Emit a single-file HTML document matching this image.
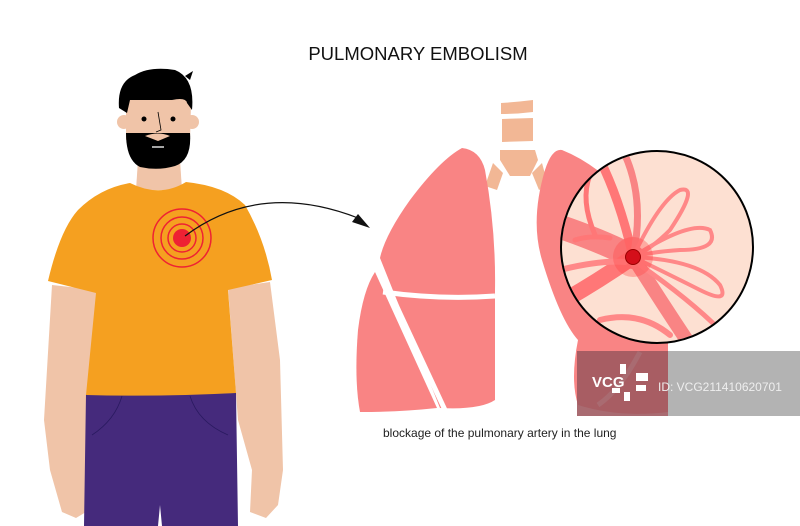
<!DOCTYPE html>
<html><head><meta charset="utf-8"><style>
html,body{margin:0;padding:0;background:#fff;}
svg{display:block;}
text{font-family:"Liberation Sans",sans-serif;}
</style></head><body>
<svg width="800" height="526" viewBox="0 0 800 526" xmlns="http://www.w3.org/2000/svg">
<rect width="800" height="526" fill="#fff"/>
<text x="418" y="60" font-size="18.5" text-anchor="middle" fill="#111">PULMONARY EMBOLISM</text>
<text x="383" y="437" font-size="12" fill="#222">blockage of the pulmonary  artery in the lung</text>

<!-- arms -->
<path d="M52 285 L98 290 L90 420 L86 470 L92 498 L86 512 L76 518 L62 512 L50 470 L44 420 Z" fill="#f0c4a8"/>
<path d="M228 288 L270 282 L280 360 L283 470 L278 505 L266 518 L250 512 L252 470 L238 420 Z" fill="#f0c4a8"/>
<!-- pants -->
<path d="M86 394 L236 393 L238 526 L162 526 L160 505 L158 526 L84 526 Z" fill="#452a7c"/>
<path d="M122 396 Q115 420 92 435 M190 396 Q198 422 228 435" stroke="#2a1a60" stroke-width="0.8" fill="none"/>
<!-- neck -->
<path d="M138 160 L180 160 L182 190 L136 190 Z" fill="#f0c4a8"/>
<!-- shirt -->
<path d="M130 183 Q160 198 186 182 Q225 186 245 205 Q265 240 272 280 L228 290 L236 393 Q160 397 86 395 L96 293 L48 281 Q60 230 78 210 Q100 188 130 183 Z" fill="#f5a020"/>
<!-- target -->
<g fill="none" stroke="#ee2233" stroke-width="1.5">
<circle cx="182" cy="238" r="14"/><circle cx="182" cy="238" r="21"/><circle cx="182" cy="238" r="29"/>
</g>
<circle cx="182" cy="238" r="9" fill="#ee2233"/>
<!-- arrow -->
<path d="M185 236 Q260 180 358 218" stroke="#111" stroke-width="1.2" fill="none"/>
<path d="M370 228 L352 222 L358 214 Z" fill="#111"/>
<!-- head -->
<circle cx="124" cy="122" r="7" fill="#f0c4a8"/>
<circle cx="192" cy="122" r="7" fill="#f0c4a8"/>
<path d="M126 100 Q127 88 158 88 Q190 88 191 105 L190 140 L126 140 Z" fill="#f0c4a8"/>
<path d="M119 108 Q117 82 135 75 Q150 66 175 70 Q195 78 192 110 L187 103 Q186 97 172 100 L130 100 L127 113 Z" fill="#000"/>
<path d="M185 76 L193 71 L190 80 Z" fill="#000"/>
<path d="M126 133 L190 133 Q192 160 175 166 Q158 171 140 167 Q126 160 126 133 Z" fill="#000"/>
<path d="M145 136 Q158 131 170 136 L158 141 Z" fill="#f0c4a8"/>
<circle cx="144" cy="119" r="2.5" fill="#000"/><circle cx="173" cy="119" r="2.5" fill="#000"/>
<path d="M158 112 L161 130 L156 132" stroke="#000" fill="none" stroke-width="0.8"/>
<path d="M152 147 L164 147" stroke="#fff" stroke-width="1.3"/>
<!-- trachea -->
<path d="M501 103 Q517 102 533 100 L533 112 Q517 114 501 114 Z" fill="#f2b795"/>
<path d="M502 119 L533 118 L533 141 L502 142 Z" fill="#f2b795"/>
<path d="M500 150 L535 150 L538 160 L530 176 L510 176 L500 160 Z" fill="#f2b795"/>
<path d="M493 163 L503 173 L497 190 L485 186 Z" fill="#f2b795"/>
<path d="M542 163 L532 173 L539 190 L548 185 Z" fill="#f2b795"/>
<!-- left lung -->
<path d="M462 148 Q480 150 485 170 Q496 230 495 290 L495 400 Q480 410 440 408 L380 258 Q385 235 410 200 Q440 160 462 148 Z" fill="#f98484"/>
<path d="M375 272 L437 408 Q400 412 360 412 Q354 380 358 330 Q363 290 375 272 Z" fill="#f98484"/>
<path d="M383 292 Q440 300 495 296" stroke="#fff" stroke-width="5" fill="none"/>
<path d="M376 262 L445 410" stroke="#fff" stroke-width="5" fill="none"/>
<!-- right lung -->
<path d="M562 150 Q600 165 640 210 L668 330 L668 412 Q620 418 578 405 Q570 380 578 340 Q560 320 542 260 Q530 220 545 170 Q552 148 562 150 Z" fill="#f98484"/>
<path d="M640 352 Q620 390 598 405" stroke="#fff" stroke-width="5" fill="none"/>
<!-- zoom circle -->
<circle cx="657" cy="247" r="96" fill="#fde0d2"/>
<clipPath id="c"><circle cx="657" cy="247" r="95"/></clipPath>
<g clip-path="url(#c)" fill="none" stroke-linecap="round">
<path d="M555 225 Q600 240 633 257" stroke="#f98484" stroke-width="24"/>
<path d="M565 300 Q600 280 633 257" stroke="#f77" stroke-width="16"/>
<path d="M633 257 Q660 300 690 345" stroke="#f98484" stroke-width="14"/>
<path d="M633 257 Q620 200 600 160" stroke="#f77" stroke-width="9"/>
<path d="M633 257 Q645 200 625 155" stroke="#f98484" stroke-width="7"/>
<path d="M633 257 Q660 200 680 190 Q700 185 670 230 Q650 250 633 257" stroke="#f88" stroke-width="4"/>
<path d="M633 257 Q690 220 710 230 Q720 250 680 250 Q650 252 633 257" stroke="#f88" stroke-width="4"/>
<path d="M633 257 Q700 260 720 285 Q730 305 700 290 Q660 270 633 257" stroke="#f88" stroke-width="4"/>
<path d="M640 265 Q690 300 720 330" stroke="#f88" stroke-width="5"/>
<path d="M590 175 Q580 200 595 235 M575 240 Q590 235 610 238" stroke="#f77" stroke-width="5"/>
<path d="M600 320 Q640 310 670 335" stroke="#f88" stroke-width="6"/>
<path d="M560 270 Q600 260 625 262" stroke="#f88" stroke-width="6"/>
<circle cx="633" cy="257" r="20" fill="#f44" opacity="0.35" stroke="none"/>
</g>
<circle cx="657" cy="247" r="96" fill="none" stroke="#000" stroke-width="2"/>
<circle cx="633" cy="257" r="7.5" fill="#d40f1a" stroke="#900" stroke-width="1"/>
<!-- watermark -->
<rect x="577" y="351" width="223" height="65" fill="#999" opacity="0.75"/>
<rect x="577" y="351" width="91" height="65" fill="#a0303a" opacity="0.55"/>
<text x="592" y="387" font-size="15" font-weight="bold" fill="#fff">VCG</text>
<g fill="#fff"><rect x="620" y="364" width="6" height="10"/><rect x="636" y="373" width="12" height="8"/><rect x="636" y="385" width="10" height="6"/><rect x="624" y="392" width="6" height="9"/><rect x="612" y="388" width="8" height="5"/></g>
<text x="658" y="391" font-size="12" fill="#eee">ID: VCG211410620701</text>
</svg>
</body></html>
